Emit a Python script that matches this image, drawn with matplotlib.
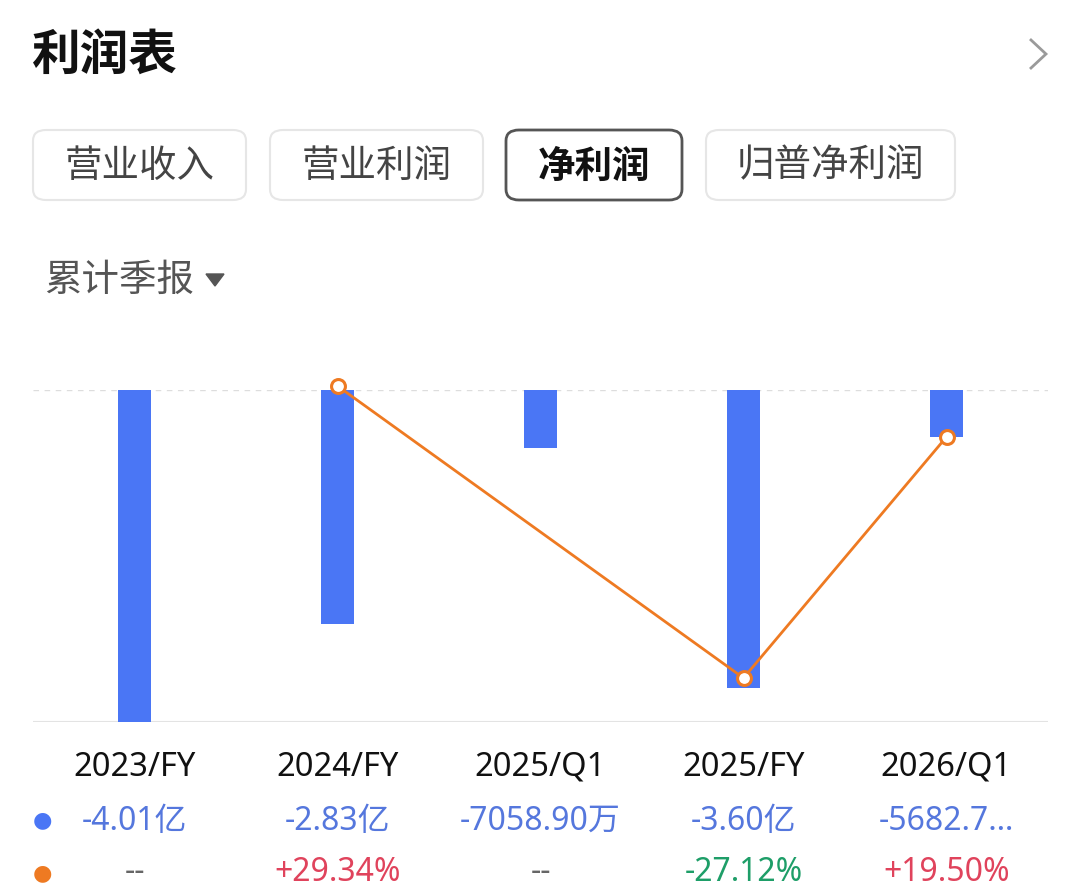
import numpy as np
import matplotlib.pyplot as plt
from matplotlib.patches import FancyBboxPatch, Polygon
from matplotlib.lines import Line2D

plt.rcParams['font.family'] = ['Noto Sans CJK SC', 'DejaVu Sans']

periods = ['2023/FY', '2024/FY', '2025/Q1', '2025/FY', '2026/Q1']
net_profit = [-4.01, -2.83, -0.705890, -3.60, -0.568270]   # 亿
profit_text = ['-4.01亿', '-2.83亿', '-7058.90万', '-3.60亿', '-5682.7…']
growth = [None, 29.34, None, -27.12, 19.50]                # %
growth_text = ['--', '+29.34%', '--', '-27.12%', '+19.50%']
tabs = ['营业收入', '营业利润', '净利润', '归普净利润']
selected_tab = '净利润'

BLUE = '#4A76F5'
ORANGE = '#EE7A22'
NUM_FONT = ['Noto Sans', 'Noto Sans CJK SC']

W, H = 1080, 896
fig = plt.figure(figsize=(W / 100, H / 100), dpi=100)
fig.patch.set_facecolor('white')


def fx(px):
    return px / W


def fy(py):
    return 1 - py / H


# header
fig.text(fx(32), fy(55), '利润表', fontsize=35, fontweight='bold', color='#111111', va='center')
fig.add_artist(Line2D([fx(1031), fx(1046), fx(1031)], [fy(40), fy(54), fy(68)],
                      transform=fig.transFigure, color='#9A9A9A', linewidth=2.0,
                      solid_joinstyle='miter'))

# tab buttons
tab_boxes = [(33, 246), (270, 483), (506, 682), (706, 955)]
for name, (x0, x1) in zip(tabs, tab_boxes):
    sel = name == selected_tab
    box = FancyBboxPatch((fx(x0), fy(200)), fx(x1 - x0), (200 - 130) / H,
                         boxstyle='round,pad=0,rounding_size=0.012',
                         transform=fig.transFigure, facecolor='white',
                         edgecolor='#555555' if sel else '#E6E6E6',
                         linewidth=2.0 if sel else 1.5)
    fig.add_artist(box)
    fig.text(fx((x0 + x1) / 2), fy(166), name, fontsize=27, ha='center', va='center',
             color='#111111' if sel else '#444444',
             fontweight='bold' if sel else 'normal')

fig.text(fx(44), fy(280), '累计季报', fontsize=27, color='#555555', va='center')
fig.add_artist(Polygon([[fx(206), fy(274)], [fx(224), fy(274)], [fx(215), fy(286)]],
                       closed=True, transform=fig.transFigure, color='#555555'))

# chart
ax = fig.add_axes([fx(33), fy(722), fx(1048 - 33), (722 - 390) / H])
x = np.arange(len(periods))
ax.bar(x, net_profit, width=0.158, color=BLUE, zorder=2)
ax.set_xlim(-0.5, len(periods) - 0.5)
ax.set_ylim(min(net_profit), 0)
ax.axhline(0, color='#DDDDDD', linestyle=(0, (4, 4)), linewidth=1.0, zorder=1)
ax.axhline(min(net_profit), color='#E3E3E3', linewidth=1.5, zorder=1)
for s in ax.spines.values():
    s.set_visible(False)
ax.set_xticks([])
ax.set_yticks([])
ax.patch.set_alpha(0)

ax2 = ax.twinx()
gx = [i for i, g in enumerate(growth) if g is not None]
gy = [g for g in growth if g is not None]
ax2.plot(gx, gy, color=ORANGE, linewidth=2.0, marker='o', markersize=10,
         markerfacecolor='white', markeredgecolor=ORANGE, markeredgewidth=2.2,
         zorder=3, clip_on=False)
ax2.set_ylim(-35.63, 28.57)
for s in ax2.spines.values():
    s.set_visible(False)
ax2.set_yticks([])

# labels under chart
for i, p in enumerate(periods):
    xc = 134.5 + 203 * i
    fig.text(fx(xc), fy(767), p, fontsize=23.5, ha='center', va='center', color='#111111',
             family=NUM_FONT)
    fig.text(fx(xc), fy(821), profit_text[i], fontsize=23, ha='center', va='center',
             color='#5577DD', family=NUM_FONT)
    g = growth[i]
    if g is None:
        c = '#666666'
    elif g >= 0:
        c = '#E0435C'
    else:
        c = '#1E9E68'
    fig.text(fx(xc), fy(872), growth_text[i], fontsize=23, ha='center', va='center',
             color=c, family=NUM_FONT)

fig.text(fx(42), fy(820), '●', fontsize=16, color=BLUE, ha='center', va='center',
         family=['DejaVu Sans'])
fig.text(fx(42), fy(873), '●', fontsize=16, color=ORANGE, ha='center', va='center',
         family=['DejaVu Sans'])

fig.savefig('out.png', dpi=100, facecolor='white')
